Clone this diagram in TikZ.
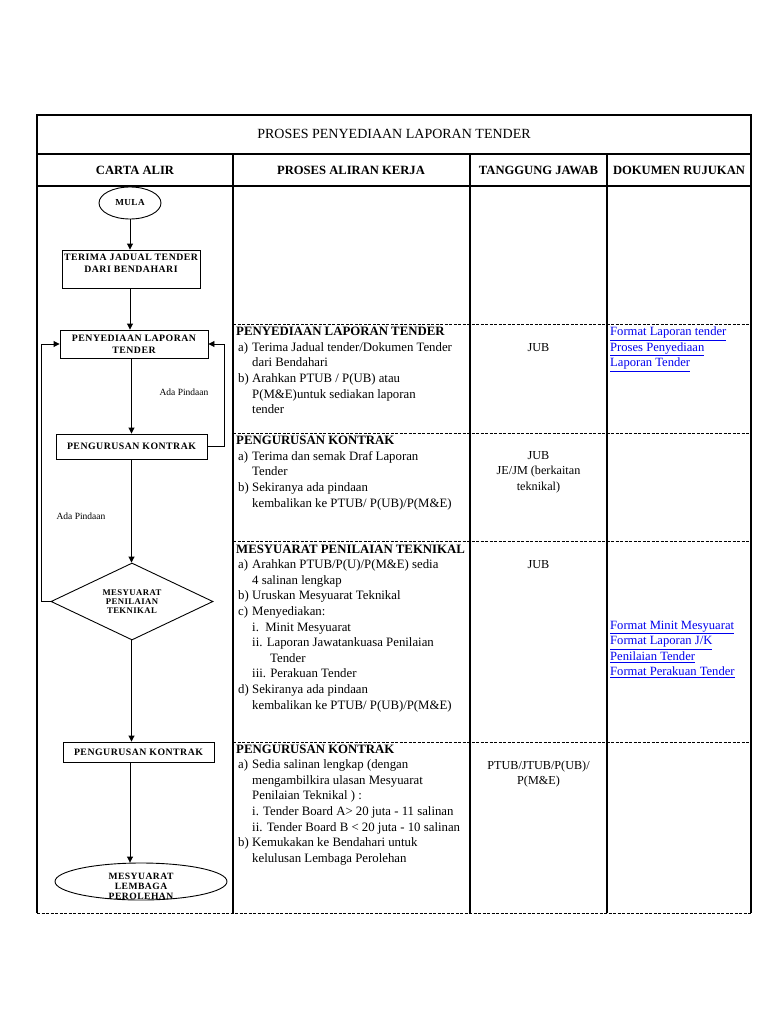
\documentclass[tikz,border=0pt]{standalone}
\usepackage{fontspec}
\setmainfont{Liberation Serif}
\newfontfamily\flowfont[LetterSpace=5]{Liberation Serif}
\usetikzlibrary{arrows.meta,shapes.geometric,positioning}
\definecolor{linkblue}{RGB}{0,0,238}

\newcommand{\pitem}[2]{\hspace*{2pt}\makebox[14pt][l]{#1}#2}
\newcommand{\pcont}{\hspace*{16pt}}
\newcommand{\doclink}[1]{\textcolor{linkblue}{\underline{#1}}}

\begin{document}
\begin{tikzpicture}[x=1pt,y=-1pt,
  flowbox/.style={draw, line width=0.9pt, inner sep=2pt, align=center,
    font=\flowfont\bfseries\fontsize{9.8}{12}\selectfont},
  flowlabel/.style={inner sep=0pt, align=center,
    font=\flowfont\bfseries\fontsize{9.6}{10}\selectfont},
  arr/.style={-{Triangle[width=6pt,length=6pt]}, line width=0.9pt},
  grid/.style={line width=1.1pt},
  sepline/.style={line width=0.9pt, dash pattern=on 3pt off 1.5pt},
  headtext/.style={font=\bfseries\fontsize{12.6}{15}\selectfont},
  notetext/.style={font=\fontsize{9.5}{11}\selectfont},
  worktext/.style={anchor=north west, inner sep=0pt, align=left,
    font=\fontsize{12.8}{15.6}\selectfont},
  dutytext/.style={anchor=north, inner sep=0pt, align=center,
    font=\fontsize{12.2}{15.6}\selectfont},
  reftext/.style={anchor=north west, inner sep=0pt, align=left,
    font=\fontsize{12.6}{15.6}\selectfont}
]
\useasboundingbox[fill=white] (0,0) rectangle (768,1024);

% table frame
\draw[grid] (37,913) -- (37,115) -- (751,115) -- (751,913);
\draw[grid] (37,154) -- (751,154);
\draw[grid] (37,186) -- (751,186);
\foreach \x in {233,470,607}
  \draw[grid] (\x,154) -- (\x,913);
\foreach \y in {324,433,541,742}
  \draw[sepline] (233,\y) -- (751,\y);
\draw[sepline] (37,913) -- (751,913);

% headings
\node[font=\fontsize{14}{16}\selectfont] (title) at (394,134) {PROSES PENYEDIAAN LAPORAN TENDER};
\node[headtext] (hcarta) at (135,170) {CARTA ALIR};
\node[headtext] (hproses) at (351,170) {PROSES ALIRAN KERJA};
\node[headtext] (htanggung) at (538.5,170) {TANGGUNG JAWAB};
\node[headtext] (hdokumen) at (679,170) {DOKUMEN RUJUKAN};

% flow chart
\node[flowbox, ellipse, minimum width=62, minimum height=32, inner sep=0pt,
  font=\flowfont\bfseries\fontsize{9.2}{10}\selectfont] (mula) at (130,203) {MULA};
\node[flowbox] (terima) at (131,269)
  {\parbox[c][34pt][t]{134pt}{\centering\vspace*{2pt}TERIMA JADUAL TENDER\\DARI BENDAHARI}};
\node[flowbox, minimum width=148, minimum height=28] (penyediaan) at (134,344)
  {PENYEDIAAN LAPORAN\\TENDER};
\node[flowbox, minimum width=151, minimum height=25] (kontrak) at (131.5,446.5)
  {PENGURUSAN KONTRAK};
\node[flowbox, diamond, aspect=2.1, minimum width=162, minimum height=77, inner sep=0pt,
  font=\flowfont\bfseries\fontsize{8.7}{9.2}\selectfont] (teknikal) at (132,601.5)
  {MESYUARAT\\PENILAIAN\\TEKNIKAL};
\node[flowbox, minimum width=151, minimum height=20] (kontrakdua) at (138.5,752)
  {PENGURUSAN KONTRAK};
\node[flowbox, ellipse, minimum width=172, minimum height=37] (lembaga) at (141,881.5) {};
\node[flowlabel] (lembagatext) at (141,886) {MESYUARAT\\LEMBAGA\\PEROLEHAN};

\draw[arr] (mula.south) -- (terima.north -| mula);
\draw[arr] (terima.south -| mula) -- (penyediaan.north -| mula);
\draw[arr] (penyediaan.south -| kontrak) -- (kontrak.north);
\draw[arr] (kontrak.south) -- (teknikal.north -| kontrak);
\draw[arr] (teknikal.south -| kontrak) -- (kontrakdua.north -| kontrak);
\draw[arr] (kontrakdua.south -| mula) -- (lembaga.north -| mula);

% return loops
\draw[arr] (kontrak.east) -- ++(17,0) |- (penyediaan.east);
\node[notetext] (pindaansatu) at (184,392) {Ada Pindaan};
\draw[arr] (teknikal.west) -- ++(-9,0) |- (penyediaan.west);
\node[notetext] (pindaandua) at (81,516) {Ada Pindaan};

% proses aliran kerja
\node[worktext] (kerjasatu) at (236,324.5) {\strut\textbf{PENYEDIAAN LAPORAN TENDER}\\
  \pitem{a)}{Terima Jadual tender/Dokumen Tender}\\
  \pcont dari Bendahari\\
  \pitem{b)}{Arahkan PTUB / P(UB) atau}\\
  \pcont P(M\&E)untuk sediakan laporan\\
  \pcont tender};
\node[worktext] (kerjadua) at (236,433.5) {\strut\textbf{PENGURUSAN KONTRAK}\\
  \pitem{a)}{Terima dan semak Draf Laporan}\\
  \pcont Tender\\
  \pitem{b)}{Sekiranya ada pindaan}\\
  \pcont kembalikan ke PTUB/ P(UB)/P(M\&E)};
\node[worktext] (kerjatiga) at (236,542) {\strut\textbf{MESYUARAT PENILAIAN TEKNIKAL}\\
  \pitem{a)}{Arahkan PTUB/P(U)/P(M\&E) sedia}\\
  \pcont 4 salinan lengkap\\
  \pitem{b)}{Uruskan Mesyuarat Teknikal}\\
  \pitem{c)}{Menyediakan:}\\
  \pcont i.\ \ Minit Mesyuarat\\
  \pcont ii. Laporan Jawatankuasa Penilaian\\
  \pcont\hspace*{18pt}Tender\\
  \pcont iii. Perakuan Tender\\
  \pitem{d)}{Sekiranya ada pindaan}\\
  \pcont kembalikan ke PTUB/ P(UB)/P(M\&E)};
\node[worktext] (kerjaempat) at (236,742) {\strut\textbf{PENGURUSAN KONTRAK}\\
  \pitem{a)}{Sedia salinan lengkap (dengan}\\
  \pcont mengambilkira ulasan Mesyuarat\\
  \pcont Penilaian Teknikal ) :\\
  \pcont i. Tender Board A> 20 juta - 11 salinan\\
  \pcont ii. Tender Board B < 20 juta - 10 salinan\\
  \pitem{b)}{Kemukakan ke Bendahari untuk}\\
  \pcont kelulusan Lembaga Perolehan};

% tanggung jawab
\node[dutytext] (jawabsatu) at (538.5,340) {\strut JUB};
\node[dutytext] (jawabdua) at (538.5,448) {\strut JUB\\JE/JM (berkaitan\\teknikal)};
\node[dutytext] (jawabtiga) at (538.5,557) {\strut JUB};
\node[dutytext] (jawabempat) at (538.5,758) {\strut PTUB/JTUB/P(UB)/\\P(M\&E)};

% dokumen rujukan
\node[reftext] (rujukansatu) at (610,324.5) {\strut\doclink{Format Laporan tender}\\
  \doclink{Proses Penyediaan}\\
  \doclink{Laporan Tender}};
\node[reftext] (rujukandua) at (610,618) {\strut\doclink{Format Minit Mesyuarat}\\
  \doclink{Format Laporan J/K}\\
  \doclink{Penilaian Tender}\\
  \doclink{Format Perakuan Tender}};
\end{tikzpicture}
\end{document}
